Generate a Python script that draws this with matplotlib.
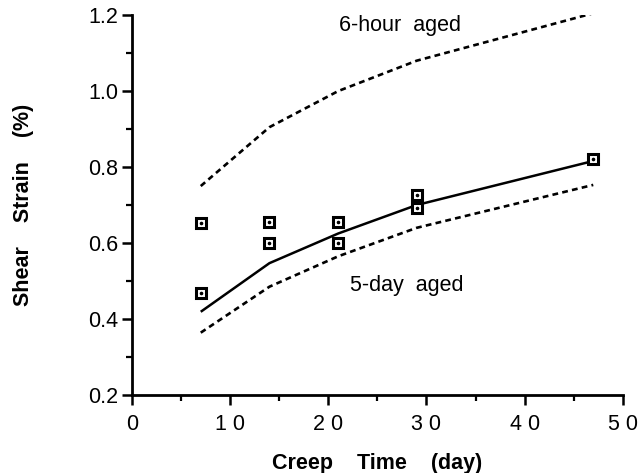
import numpy as np
import matplotlib
matplotlib.use("Agg")
import matplotlib.pyplot as plt
from matplotlib.ticker import MultipleLocator

# creep curves (model) and measured points
t_curve = [7, 14, 21, 29, 47]
hour6 = [0.75, 0.905, 1.0, 1.08, 1.205]
fit = [0.419, 0.547, 0.625, 0.70, 0.816]
day5 = [0.364, 0.485, 0.565, 0.64, 0.753]

t_meas = [7, 7, 14, 14, 21, 21, 29, 29, 47]
strain_meas = [0.652, 0.468, 0.655, 0.60, 0.655, 0.60, 0.726, 0.691, 0.82]

plt.rcParams['font.family'] = ['Liberation Sans', 'DejaVu Sans']

fig = plt.figure(figsize=(6.38, 4.73), dpi=100)
ax = fig.add_axes([0.207, 0.165, 0.769, 0.803])

dots = (0, (2.2, 1.6))
ax.plot(t_curve, hour6, color='black', lw=1.9, ls=dots)
ax.plot(t_curve, day5, color='black', lw=1.9, ls=dots)
ax.plot(t_curve, fit, color='black', lw=1.8, solid_capstyle='butt')
ax.plot(t_meas, strain_meas, ls='none', marker='s', ms=6.5, mfc='white',
        mec='black', mew=2.2)
ax.plot(t_meas, strain_meas, ls='none', marker='o', ms=1.6, color='black')

ax.text(21.1, 1.174, '6-hour  aged', fontsize=15.5, va='center', ha='left')
ax.text(22.2, 0.489, '5-day  aged', fontsize=15.5, va='center', ha='left')

ax.set_xlim(0, 50)
ax.set_ylim(0.2, 1.2)
ax.xaxis.set_major_locator(MultipleLocator(10))
ax.xaxis.set_minor_locator(MultipleLocator(5))
ax.yaxis.set_major_locator(MultipleLocator(0.2))
ax.yaxis.set_minor_locator(MultipleLocator(0.1))
ax.xaxis.set_major_formatter(matplotlib.ticker.FuncFormatter(lambda v, p: ' '.join(f'{v:.0f}') if v >= 10 else f'{v:.0f}'))
ax.yaxis.set_major_formatter(matplotlib.ticker.FormatStrFormatter('%.1f'))

for s in ('top', 'right'):
    ax.spines[s].set_visible(False)
for s in ('left', 'bottom'):
    ax.spines[s].set_linewidth(2.0)

ax.tick_params(which='major', direction='out', length=7, width=1.8, labelsize=15.5)
ax.tick_params(which='minor', direction='out', length=4, width=1.6)
ax.tick_params(axis='x', which='major', pad=7)
ax.tick_params(axis='y', which='major', pad=3)

ax.set_xlabel('Creep    Time    (day)', fontsize=15.5, fontweight='bold', labelpad=13)
ax.set_ylabel('Shear    Strain    (%)', fontsize=15.5, fontweight='bold', labelpad=39)

fig.savefig('out.png', dpi=100, facecolor='white')
